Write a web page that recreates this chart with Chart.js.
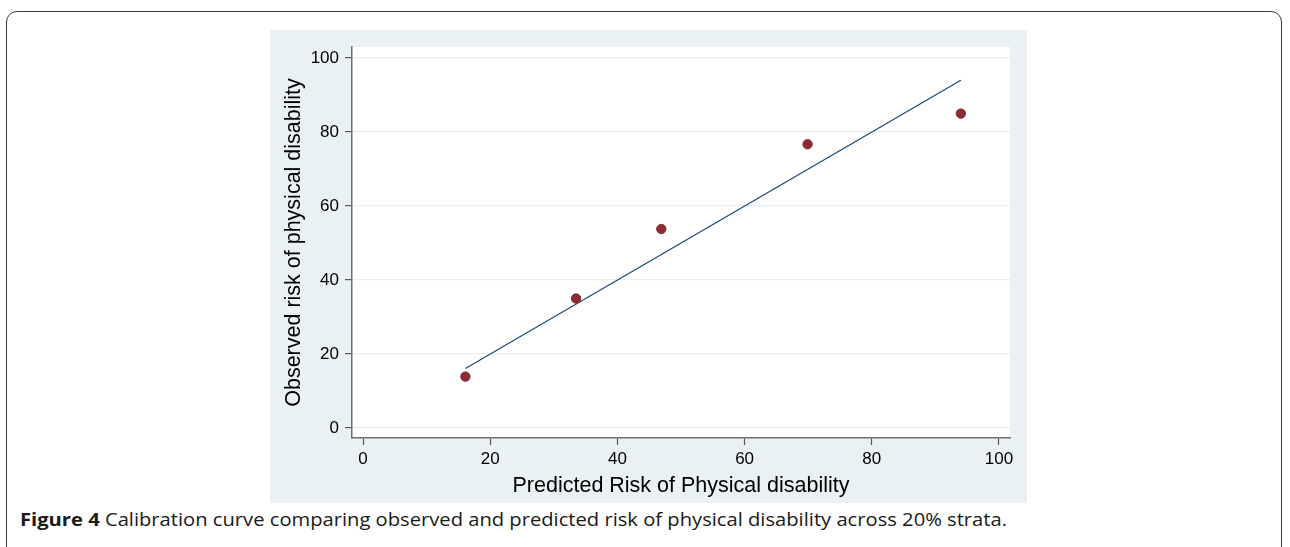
<!DOCTYPE html>
<html>
<head>
<meta charset="utf-8">
<script src="https://cdn.jsdelivr.net/npm/chart.js@4"></script>
<style>
  html, body { margin: 0; padding: 0; background: #fff; }
  body { width: 1290px; height: 547px; position: relative; overflow: hidden; }
  #frame {
    position: absolute; left: 6px; top: 11px; width: 1276px; height: 560px;
    border: 1.5px solid #3a3a3a; border-radius: 11px; box-sizing: border-box;
  }
  #panel {
    position: absolute; left: 270px; top: 30px; width: 757px; height: 473px;
    background: #eaf1f3;
  }
  #calib { position: absolute; left: 0; top: 0; }
  #caption {
    position: absolute; left: 20px; top: 507px; white-space: nowrap;
    font-family: "Open Sans", "Noto Sans", sans-serif; font-size: 18px; color: #1a1a1a;
    transform-origin: left center;
  }
</style>
</head>
<body>
<div id="frame"></div>
<div id="panel"><canvas id="calib" width="757" height="473"></canvas></div>
<div id="caption"><b>Figure 4</b> Calibration curve comparing observed and predicted risk of physical disability across 20% strata.</div>
<script>
// Calibration: observed vs predicted risk (%) per 20% stratum
const predicted = [16.1, 33.5, 46.9, 69.9, 94.0];
const observed = [13.9, 35.0, 53.8, 76.7, 85.0];
// reference line of perfect calibration (y = x) over the predicted range
const refLine = [16.1, 94.0];
const xTicks = [0, 20, 40, 60, 80, 100];
const yTicks = [0, 20, 40, 60, 80, 100];

const tickFont = { family: 'Liberation Sans, Arial, sans-serif', size: 17 };
const titleFont = { family: 'Liberation Sans, Arial, sans-serif', size: 21.5 };

// white plot region on the grey Stata-like background
const plotBg = {
    id: 'plotBg',
    beforeDraw(chart) {
        const a = chart.chartArea;
        const ctx = chart.ctx;
        ctx.save();
        ctx.fillStyle = '#ffffff';
        ctx.fillRect(a.left, a.top, a.right - a.left, a.bottom - a.top);
        ctx.restore();
    }
};

new Chart(document.getElementById('calib'), {
    type: 'scatter',
    data: {
        datasets: [{
            label: 'Observed',
            data: predicted.map((p, i) => ({ x: p, y: observed[i] })),
            backgroundColor: '#8b2c35',
            borderColor: '#8b2c35',
            pointRadius: 4.7,
            pointHoverRadius: 4.7
        }, {
            label: 'Reference',
            type: 'line',
            data: refLine.map(v => ({ x: v, y: v })),
            borderColor: '#1f4c78',
            borderWidth: 1.3,
            pointRadius: 0,
            fill: false
        }]
    },
    options: {
        responsive: false,
        animation: false,
        layout: { padding: { top: 17, right: 17, left: 0, bottom: 0 } },
        plugins: {
            legend: { display: false },
            tooltip: { enabled: false }
        },
        scales: {
            x: {
                type: 'linear',
                min: -1.73,
                max: 101.73,
                afterBuildTicks: s => { s.ticks = xTicks.map(v => ({ value: v })); },
                afterFit: s => { s.height = 65; },
                border: { color: '#6f6f6f', width: 1.5 },
                grid: { drawOnChartArea: false, tickLength: 7, tickColor: '#555', tickWidth: 1.2 },
                ticks: { font: tickFont, color: '#000', padding: 4, maxRotation: 0 },
                title: {
                    display: true,
                    text: 'Predicted Risk of Physical disability',
                    font: titleFont, color: '#000',
                    padding: { top: 0, bottom: 4 }
                }
            },
            y: {
                type: 'linear',
                min: -2.7,
                max: 103,
                afterBuildTicks: s => { s.ticks = yTicks.map(v => ({ value: v })); },
                afterFit: s => { s.width = 82; },
                border: { color: '#6f6f6f', width: 1.5 },
                grid: { color: '#e6eef0', lineWidth: 1.2, tickLength: 7, tickColor: '#555', tickWidth: 1.2 },
                ticks: { font: tickFont, color: '#000', padding: 6 },
                title: {
                    display: true,
                    text: 'Observed risk of physical disability',
                    font: titleFont, color: '#000',
                    padding: { top: 11, bottom: 0 }
                }
            }
        }
    },
    plugins: [plotBg]
});

// stretch caption to the reference's line length
const cap = document.getElementById('caption');
cap.style.transform = 'scaleX(' + (987 / cap.getBoundingClientRect().width) + ')';
</script>
</body>
</html>
